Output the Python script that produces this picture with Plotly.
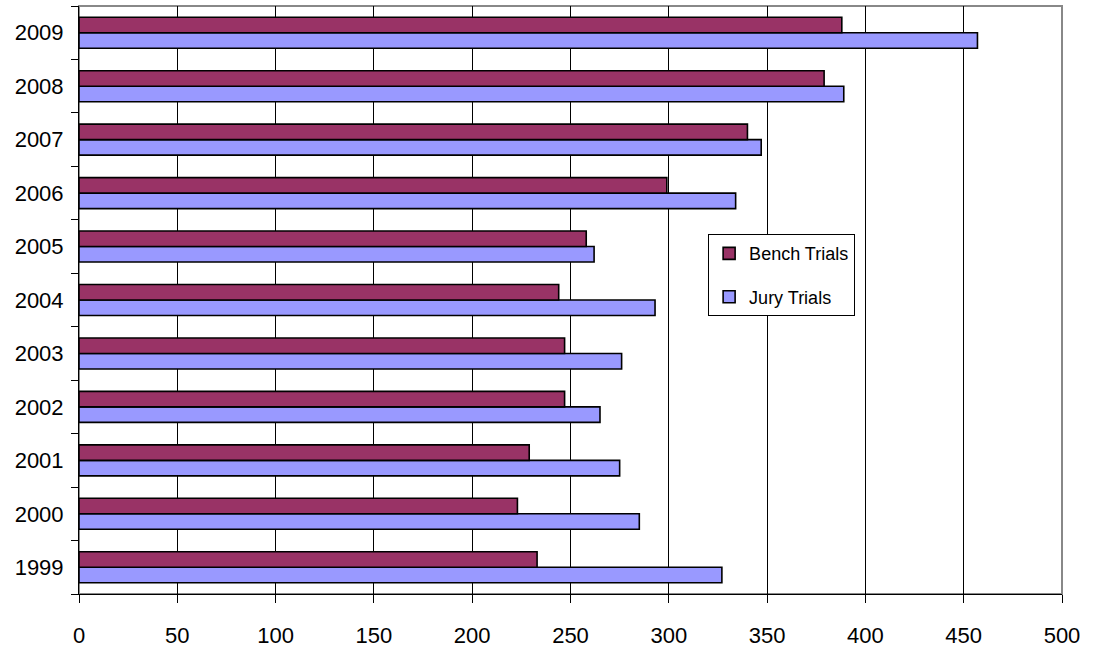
import plotly.graph_objects as go

years = ["1999", "2000", "2001", "2002", "2003", "2004", "2005", "2006", "2007", "2008", "2009"]
bench = [233, 223, 229, 247, 247, 244, 258, 299, 340, 379, 388]
jury = [327, 285, 275, 265, 276, 293, 262, 334, 347, 389, 457]

fig = go.Figure()

# jury first so it sits below bench inside each group
fig.add_trace(go.Bar(
    y=years, x=jury, orientation="h", name="Jury Trials",
    legendgroup="j", legendrank=2,
    marker=dict(color="#9999FF", line=dict(color="black", width=1.6)),
))
fig.add_trace(go.Bar(
    y=years, x=bench, orientation="h", name="Bench Trials",
    legendgroup="b", legendrank=1,
    marker=dict(color="#993366", line=dict(color="black", width=1.6)),
))

fig.update_layout(
    width=1094, height=647,
    margin=dict(l=79, r=32, t=6, b=53),
    paper_bgcolor="white", plot_bgcolor="white",
    barmode="group", bargap=0.42, bargroupgap=0,
    font=dict(family="Liberation Sans, Arial, sans-serif", color="black"),
    legend=dict(
        x=0.64, y=0.612, xanchor="left", yanchor="top",
        traceorder="grouped", tracegroupgap=17,
        bordercolor="black", borderwidth=1, bgcolor="white",
        font=dict(size=18),
    ),
    shapes=[dict(
        type="rect", xref="x domain", yref="y domain",
        x0=0, x1=1, y0=0, y1=1,
        line=dict(color="#888888", width=2), layer="below",
    )],
)

fig.update_xaxes(
    range=[0, 500], dtick=50, tick0=0, automargin=False,
    showgrid=True, gridcolor="black", gridwidth=1,
    showline=True, linecolor="black", linewidth=1,
    ticks="outside", ticklen=8, tickcolor="black",
    ticklabelstandoff=14,
    tickfont=dict(size=22),
    zeroline=False,
)
fig.update_yaxes(
    type="category", tickson="boundaries", automargin=False,
    showline=True, linecolor="black", linewidth=1,
    ticks="outside", ticklen=7, tickcolor="black",
    ticklabelstandoff=10,
    tickfont=dict(size=22), showgrid=False,
)

# drop the default page margin so the chart sits flush in the window
fig.write_html("out.html", config={"displayModeBar": False},
               post_script="document.body.style.margin='0';")
